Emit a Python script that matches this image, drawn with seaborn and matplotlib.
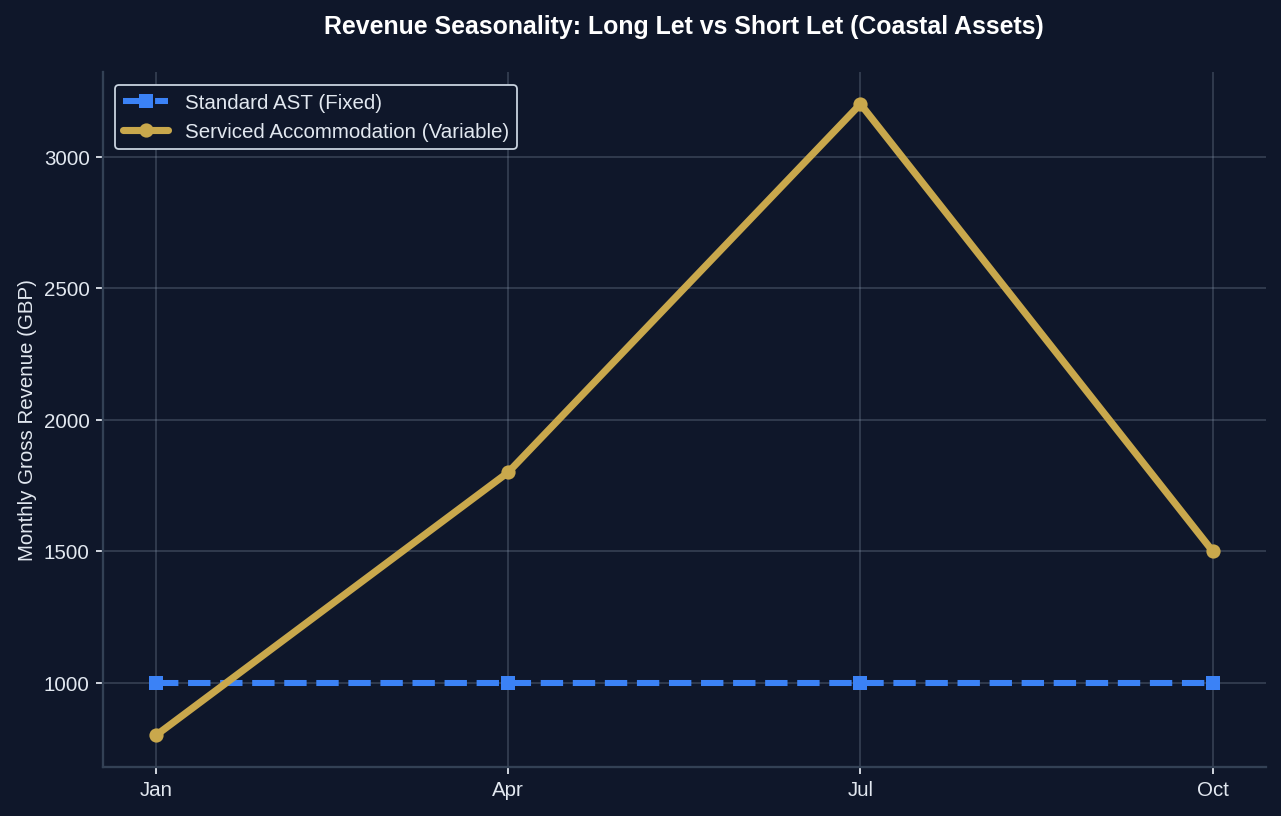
import matplotlib
matplotlib.use("Agg")
import matplotlib.pyplot as plt
import seaborn as sns
import pandas as pd

months = ["Jan", "Apr", "Jul", "Oct"]
ast_revenue = [1000, 1000, 1000, 1000]
sa_revenue = [800, 1800, 3200, 1500]

bg = "#0f172a"
grid_col = "#334155"
text_col = "#e2e8f0"

sns.set_theme(style="darkgrid")
plt.rcParams["font.family"] = ["Liberation Sans", "DejaVu Sans"]
plt.rcParams.update({
    "figure.facecolor": bg,
    "axes.facecolor": bg,
    "axes.edgecolor": grid_col,
    "grid.color": grid_col,
    "text.color": text_col,
    "axes.labelcolor": text_col,
    "xtick.color": text_col,
    "ytick.color": text_col,
})

fig, ax = plt.subplots(figsize=(10.0, 6.375), dpi=128.1)

df_ast = pd.DataFrame({"month": months, "revenue": ast_revenue})
df_sa = pd.DataFrame({"month": months, "revenue": sa_revenue})

sns.lineplot(data=df_ast, x="month", y="revenue", ax=ax, color="#3b82f6",
             linewidth=3.4, linestyle="--", marker="s", markersize=7.5,
             markeredgewidth=0, label="Standard AST (Fixed)")
sns.lineplot(data=df_sa, x="month", y="revenue", ax=ax, color="#c9a84c",
             linewidth=4, marker="o", markersize=8, markeredgewidth=0,
             label="Serviced Accommodation (Variable)")

ax.set_title("Revenue Seasonality: Long Let vs Short Let (Coastal Assets)",
             fontsize=14, fontweight="bold", color="white", pad=22)
ax.set_xlabel("")
ax.set_ylabel("Monthly Gross Revenue (GBP)", fontsize=11.5, color=text_col)
ax.tick_params(axis="both", labelsize=11.5, length=4, width=1, colors=text_col,
               bottom=True, left=True)
ax.grid(True, color="#94a3b8", alpha=0.3, linewidth=0.9)
sns.despine(ax=ax)
for s in ["left", "bottom"]:
    ax.spines[s].set_color(grid_col)
    ax.spines[s].set_linewidth(1.3)

leg = ax.legend(loc="upper left", fontsize=11.5, facecolor=bg, edgecolor="#cbd5e1",
                framealpha=1, borderaxespad=0.6, handlelength=2.2)
for t in leg.get_texts():
    t.set_color(text_col)

fig.subplots_adjust(left=0.0804, right=0.988, top=0.9105, bottom=0.06)
fig.savefig("out.png", dpi=128.1, facecolor=bg)
